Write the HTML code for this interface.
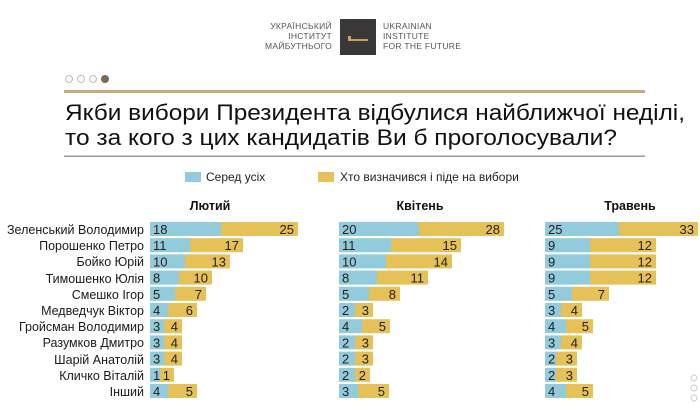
<!DOCTYPE html>
<html><head><meta charset="utf-8"><style>
html,body{margin:0;padding:0;background:#fff;}
svg{display:block;}
text{font-family:"Liberation Sans","DejaVu Sans",sans-serif;}
</style></head><body>
<svg width="700" height="416" viewBox="0 0 700 416" xmlns="http://www.w3.org/2000/svg">
<!-- logo -->
<g font-size="8.5" fill="#555" letter-spacing="0.3">
<text x="332" y="29" text-anchor="end">УКРАЇНСЬКИЙ</text>
<text x="332" y="39" text-anchor="end">ІНСТИТУТ</text>
<text x="332" y="49" text-anchor="end">МАЙБУТНЬОГО</text>
<text x="383" y="29" font-family="Liberation Serif,serif">UKRAINIAN</text>
<text x="383" y="39" font-family="Liberation Serif,serif">INSTITUTE</text>
<text x="383" y="49" font-family="Liberation Serif,serif">FOR THE FUTURE</text>
</g>
<rect x="340" y="19" width="36" height="36" fill="#3a3838"/>
<path d="M348 41 v-5 h3 v3 h17 v2 z" fill="#c9a55a"/>
<!-- dots -->
<g fill="none" stroke="#bbb" stroke-width="1">
<circle cx="69" cy="79" r="3.5"/><circle cx="81" cy="79" r="3.5"/><circle cx="93" cy="79" r="3.5"/>
</g>
<circle cx="105" cy="79" r="4" fill="#7a6a55"/>
<rect x="64" y="90" width="581" height="3" fill="#c8ad7a"/>
<text x="65" y="120" font-size="22" fill="#111" textLength="620" lengthAdjust="spacingAndGlyphs">Якби вибори Президента відбулися найближчої неділі,</text>
<text x="65" y="145" font-size="22" fill="#111" textLength="552" lengthAdjust="spacingAndGlyphs">то за кого з цих кандидатів Ви б проголосували?</text>
<rect x="64" y="155.5" width="581" height="1.5" fill="#999"/>
<!-- legend -->
<rect x="185" y="172" width="16" height="10" fill="#92cbdc"/>
<text x="206" y="181" font-size="12" fill="#222">Серед усіх</text>
<rect x="318" y="172" width="16" height="10" fill="#e5c158"/>
<text x="340" y="181" font-size="12" fill="#222">Хто визначився і піде на вибори</text>
<!-- month titles -->
<g font-size="12.5" font-weight="bold" fill="#111" text-anchor="middle">
<text x="210" y="210">Лютий</text>
<text x="420" y="210">Квітень</text>
<text x="630" y="210">Травень</text>
</g>
<!-- labels -->
<g font-size="12.5" fill="#1a1a1a" text-anchor="end">
<text x="144" y="234" textLength="137" lengthAdjust="spacingAndGlyphs">Зеленський Володимир</text>
<text x="144" y="250">Порошенко Петро</text>
<text x="144" y="266">Бойко Юрій</text>
<text x="144" y="283">Тимошенко Юлія</text>
<text x="144" y="299">Смешко Ігор</text>
<text x="144" y="315">Медведчук Віктор</text>
<text x="144" y="331">Гройсман Володимир</text>
<text x="144" y="347">Разумков Дмитро</text>
<text x="144" y="364">Шарій Анатолій</text>
<text x="144" y="380">Кличко Віталій</text>
<text x="144" y="396">Інший</text>
</g>
<g id="bars" font-size="13" fill="#222"></g>
<!-- right dots -->
<g fill="none" stroke="#ccc"><circle cx="694" cy="378" r="3"/><circle cx="694" cy="388" r="3"/><circle cx="694" cy="398" r="3"/></g>
<script>
var g=document.getElementById('bars');
var groups=[
 {x:150,d:[[221,298,18,25],[190,243,11,17],[185,230,10,13],[179,212,8,10],[175,206,5,7],[168,197,4,6],[164,182,3,4],[164,182,3,4],[164,182,3,4],[160,174,1,1],[168,197,4,5]]},
 {x:339,d:[[419,504,20,28],[391,461,11,15],[386,452,10,14],[377,428,8,11],[369,400,5,8],[355,373,2,3],[362,390,4,5],[355,373,2,3],[355,373,2,3],[355,370,2,2],[358,389,3,5]]},
 {x:545,d:[[619,698,25,33],[590,656,9,12],[590,656,9,12],[590,656,9,12],[572,609,5,7],[561,582,3,4],[566,593,4,5],[561,582,3,4],[556,577,2,3],[556,577,2,3],[566,593,4,5]]}
];
var ns='http://www.w3.org/2000/svg';
function el(n,a,t){var e=document.createElementNS(ns,n);for(var k in a)e.setAttribute(k,a[k]);if(t!=null)e.textContent=t;g.appendChild(e);}
groups.forEach(function(G){G.d.forEach(function(r,i){var y=222+i*16.2;
 el('rect',{x:r[0],y:y,width:r[1]-r[0],height:14,fill:'#e5c158'});
 el('rect',{x:G.x,y:y,width:r[0]-G.x,height:14,fill:'#92cbdc'});
 el('text',{x:G.x+3,y:y+12},r[2]);
 el('text',{x:r[1]-4,y:y+12,'text-anchor':'end'},r[3]);
});});
</script>
</svg>
</body></html>
